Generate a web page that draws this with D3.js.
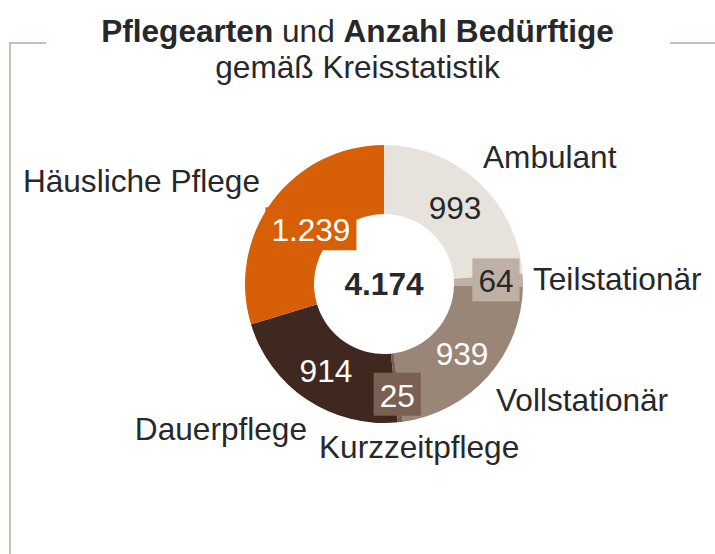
<!DOCTYPE html>
<html lang="de">
<head>
<meta charset="utf-8">
<title>Pflegearten und Anzahl Bedürftige</title>
<script src="https://cdn.jsdelivr.net/npm/d3@7/dist/d3.min.js"></script>
<style>
  html, body { margin: 0; padding: 0; background: #ffffff; }
  svg { display: block; font-family: "Liberation Sans", Arial, Helvetica, sans-serif; }
</style>
</head>
<body>
<svg id="chart" width="715" height="554"></svg>
<script>
// Pflegearten (clockwise from 12 o'clock) and number of people per type
const categories = ["Ambulant", "Teilstationär", "Vollstationär", "Kurzzeitpflege", "Dauerpflege", "Häusliche Pflege"];
const values = [993, 64, 939, 25, 914, 1239];
const valueLabels = ["993", "64", "939", "25", "914", "1.239"];
const totalLabel = "4.174";

// Slice colours
const colors = ["#e8e2dd", "#bfb0a5", "#9a8677", "#7a5f53", "#3f2820", "#d65f08"];
const valueTextColors = ["#26282b", "#26282b", "#ffffff", "#ffffff", "#ffffff", "#ffffff"];

// Layout
const W = 715, H = 554;
const cx = 384, cy = 284;
const outerR = 139, innerR = 70;
const fontSize = 31.6;
// radius at which each value label sits, and whether it gets a backing box
const valueRadius = [104.5, 112, 104.5, 112, 104.5, 91];
const boxed = [false, true, false, true, false, true];
// outer category labels: offset from the centre and text anchor
const outerLabelPos = [
  { dx: 99, dy: -116, anchor: "start" },
  { dx: 149, dy: 6, anchor: "start" },
  { dx: 112, dy: 127, anchor: "start" },
  { dx: -65, dy: 174, anchor: "start" },
  { dx: -77, dy: 156, anchor: "end" },
  { dx: -124, dy: -92, anchor: "end" }
];

const svg = d3.select("#chart");

// Frame lines
const frame = svg.append("g").attr("stroke", "#ccbfb6").attr("stroke-width", 2).attr("fill", "none");
frame.append("path").attr("d", `M46,43 H10 V${H}`);
frame.append("path").attr("d", `M670,43 H${W}`);

// Title
const title = svg.append("text")
  .attr("x", W / 2).attr("y", 42)
  .attr("text-anchor", "middle")
  .attr("font-size", fontSize)
  .attr("fill", "#26282b");
title.append("tspan").attr("font-weight", "bold").text("Pflegearten");
title.append("tspan").text(" und ");
title.append("tspan").attr("font-weight", "bold").text("Anzahl Bedürftige");

svg.append("text")
  .attr("x", W / 2).attr("y", 78)
  .attr("text-anchor", "middle")
  .attr("font-size", fontSize)
  .attr("fill", "#26282b")
  .text("gemäß Kreisstatistik");

// Donut
const data = categories.map((c, i) => ({ category: c, value: values[i], label: valueLabels[i], i }));
const pie = d3.pie().value(d => d.value).sort(null);
const arcs = pie(data);
const arc = d3.arc().innerRadius(innerR).outerRadius(outerR);

const g = svg.append("g").attr("transform", `translate(${cx},${cy})`);

g.selectAll("path.slice")
  .data(arcs)
  .join("path")
  .attr("class", "slice")
  .attr("d", arc)
  .attr("fill", d => colors[d.data.i]);

// Value labels, some with a box in the slice colour
const labelG = g.selectAll("g.value")
  .data(arcs)
  .join("g")
  .attr("class", "value")
  .attr("transform", d => {
    const r = valueRadius[d.data.i];
    const c = d3.arc().innerRadius(r).outerRadius(r).centroid(d);
    return `translate(${c[0]},${c[1]})`;
  });

labelG.filter(d => boxed[d.data.i]).append("rect").attr("fill", d => colors[d.data.i]);
labelG.append("text")
  .attr("text-anchor", "middle")
  .attr("dy", "0.36em")
  .attr("font-size", fontSize)
  .attr("fill", d => valueTextColors[d.data.i])
  .text(d => d.data.label);

labelG.filter(d => boxed[d.data.i]).each(function () {
  const grp = d3.select(this);
  const bb = grp.select("text").node().getBBox();
  const w = bb.width + 12, h = 43;
  grp.select("rect")
    .attr("x", -w / 2).attr("y", -h / 2 - 1)
    .attr("width", w).attr("height", h);
});

// Total in the centre
g.append("text")
  .attr("text-anchor", "middle")
  .attr("dy", "0.36em")
  .attr("font-size", fontSize)
  .attr("font-weight", "bold")
  .attr("fill", "#26282b")
  .text(totalLabel);

// Category labels around the ring
g.selectAll("text.cat")
  .data(arcs)
  .join("text")
  .attr("class", "cat")
  .attr("x", d => outerLabelPos[d.data.i].dx)
  .attr("y", d => outerLabelPos[d.data.i].dy)
  .attr("text-anchor", d => outerLabelPos[d.data.i].anchor)
  .attr("font-size", fontSize)
  .attr("fill", "#26282b")
  .text(d => d.data.category);
</script>
</body>
</html>
